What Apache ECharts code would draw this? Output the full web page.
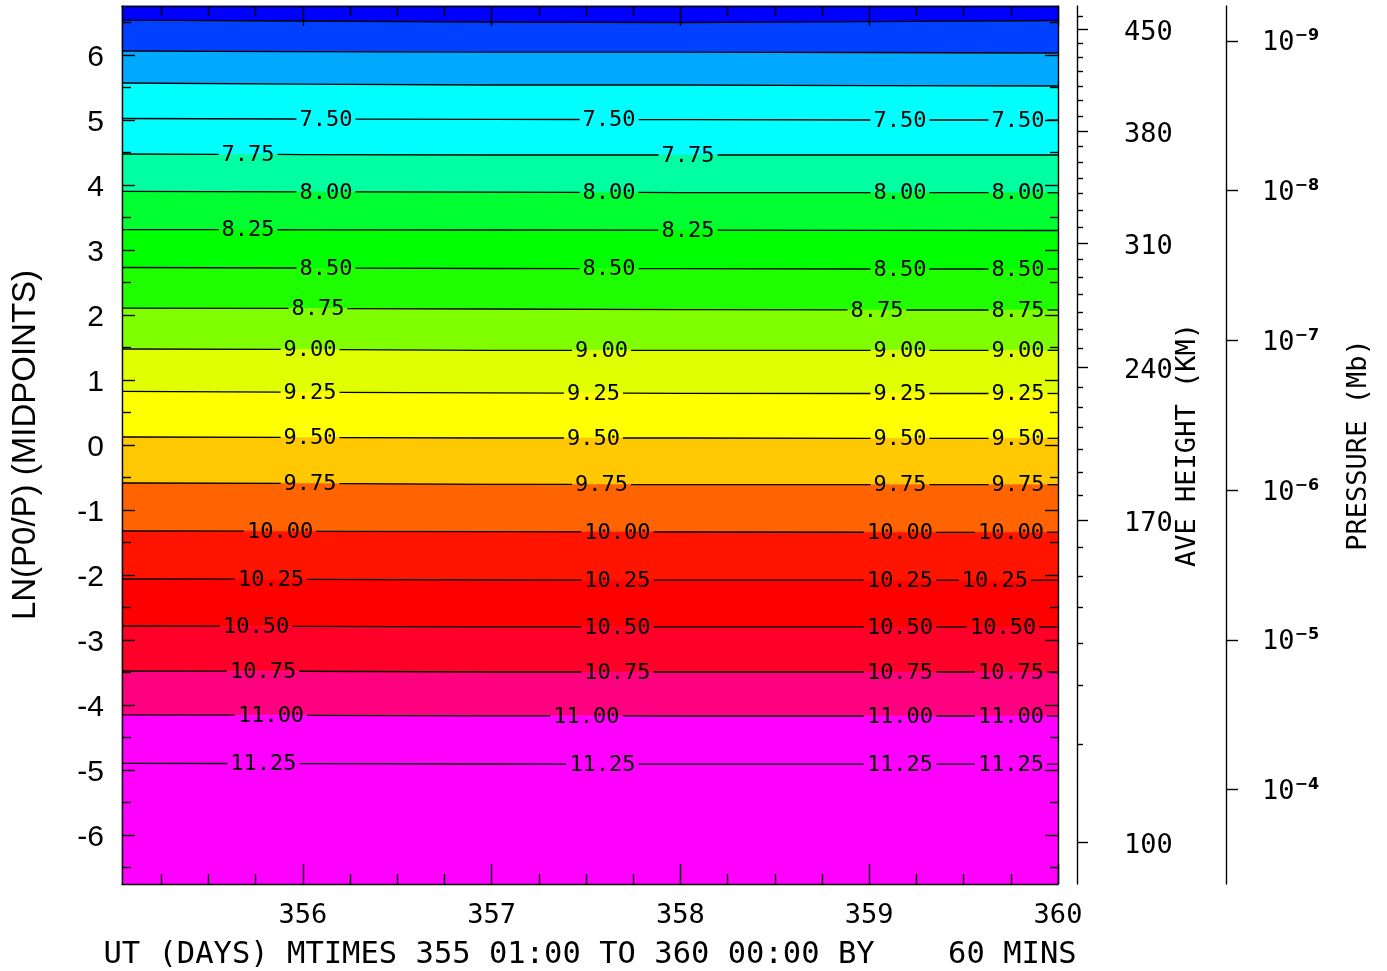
<!DOCTYPE html>
<html>
<head>
<meta charset="utf-8">
<script src="https://cdn.jsdelivr.net/npm/echarts@6/dist/echarts.min.js"></script>
<style>
html,body{margin:0;padding:0;background:#ffffff;}
#chart{width:1387px;height:971px;}
</style>
</head>
<body>
<div id="chart"></div>
<script>
// ---------------- data ----------------
const xStart = 355 + 1 / 24;      // 355 01:00
const xEnd = 360;                 // 360 00:00
const zMin = -6.75, zMax = 6.75;  // LN(P0/P) midpoints range

const xColumns = [xStart, 356, 357, 358, 359, 360];

const contourLevels = [6.75, 7.00, 7.25, 7.50, 7.75, 8.00, 8.25, 8.50, 8.75, 9.00,
                       9.25, 9.50, 9.75, 10.00, 10.25, 10.50, 10.75, 11.00, 11.25];

// z position of each contour level at the xColumns
const contourZ = [
  [6.534, 6.519, 6.504, 6.496, 6.511, 6.527],
  [6.058, 6.050, 6.042, 6.042, 6.035, 6.027],
  [5.566, 5.550, 5.535, 5.535, 5.527, 5.520],
  [5.020, 5.012, 5.008, 5.002, 4.997, 4.997],
  [4.474, 4.466, 4.459, 4.459, 4.459, 4.459],
  [3.901, 3.893, 3.887, 3.882, 3.879, 3.879],
  [3.313, 3.309, 3.306, 3.303, 3.300, 3.298],
  [2.729, 2.721, 2.714, 2.711, 2.706, 2.706],
  [2.106, 2.099, 2.091, 2.083, 2.076, 2.076],
  [1.476, 1.468, 1.456, 1.456, 1.456, 1.456],
  [0.823, 0.810, 0.800, 0.795, 0.792, 0.792],
  [0.123, 0.115, 0.108, 0.108, 0.103, 0.103],
  [-0.584, -0.592, -0.604, -0.610, -0.610, -0.610],
  [-1.322, -1.327, -1.333, -1.338, -1.342, -1.342],
  [-2.060, -2.065, -2.076, -2.079, -2.079, -2.079],
  [-2.783, -2.788, -2.795, -2.798, -2.798, -2.798],
  [-3.475, -3.479, -3.490, -3.490, -3.490, -3.490],
  [-4.151, -4.156, -4.164, -4.167, -4.167, -4.167],
  [-4.894, -4.900, -4.905, -4.908, -4.908, -4.908]
];

// x (days) where each contour is labelled
const contourLabelX = [
  [], [], [],
  [356.122, 357.622, 359.163, 359.788],
  [355.709, 358.040],
  [356.122, 357.622, 359.163, 359.788],
  [355.709, 358.040],
  [356.122, 357.622, 359.163, 359.788],
  [356.080, 359.041, 359.788],
  [356.038, 357.582, 359.163, 359.788],
  [356.038, 357.539, 359.163, 359.788],
  [356.038, 357.539, 359.163, 359.788],
  [356.038, 357.582, 359.163, 359.788],
  [355.879, 357.666, 359.163, 359.751],
  [355.831, 357.666, 359.163, 359.666],
  [355.752, 357.666, 359.163, 359.709],
  [355.789, 357.666, 359.163, 359.751],
  [355.831, 357.502, 359.163, 359.751],
  [355.791, 357.587, 359.163, 359.751]
];

// fill colour of each band, from the top of the plot down
const bandColors = ['#0000ff', '#0040ff', '#00a8ff', '#00ffff', '#00ffff', '#00ffa0', '#00ff30',
                    '#00ff00', '#20ff00', '#80ff00', '#e0ff00', '#ffff00', '#ffc800', '#ff6400',
                    '#ff1400', '#ff0000', '#ff0028', '#ff0080', '#ff00ff', '#ff00ff'];

const yMajorTicks = [-6, -5, -4, -3, -2, -1, 0, 1, 2, 3, 4, 5, 6];
const yMinorTicks = [-6.5, -5.5, -4.5, -3.5, -2.5, -1.5, -0.5, 0.5, 1.5, 2.5, 3.5, 4.5, 5.5, 6.5];
const xMajorTicks = [356, 357, 358, 359, 360];
const xMinorTicks = [355.25, 355.5, 355.75, 356.25, 356.5, 356.75, 357.25, 357.5, 357.75,
                     358.25, 358.5, 358.75, 359.25, 359.5, 359.75];

// average height axis (km) and the LN(P0/P) at which each tick sits
const heightLabels = [450, 380, 310, 240, 170, 100];
const heightTicks = [460, 450, 440, 430, 420, 410, 400, 390, 380, 370, 360, 350, 340, 330, 320,
                     310, 300, 290, 280, 270, 260, 250, 240, 230, 220, 210, 200, 190, 180, 170,
                     160, 150, 140, 130, 120, 110, 100];
const heightTickZ = [6.596, 6.396, 6.181, 5.966, 5.750, 5.520, 5.304, 5.058, 4.828, 4.597, 4.351,
                     4.105, 3.875, 3.613, 3.352, 3.106, 2.860, 2.583, 2.322, 2.045, 1.784, 1.491,
                     1.199, 0.892, 0.584, 0.277, -0.062, -0.415, -0.769, -1.153, -1.568, -2.014,
                     -2.491, -3.044, -3.690, -4.597, -6.104];

// pressure axis (mb); LN(P0/P) with P0 = 5e-7 mb
const P0 = 5e-7;
const pressureTicks = [1e-9, 1e-8, 1e-7, 1e-6, 1e-5, 1e-4];

const xTitle = 'UT (DAYS) MTIMES 355 01:00 TO 360 00:00 BY    60 MINS';
const yTitle = 'LN(P0/P) (MIDPOINTS)';
const heightTitle = 'AVE HEIGHT (KM)';
const pressureTitle = 'PRESSURE (Mb)';

// ---------------- derived ----------------
const heightMajorZ = heightLabels.map(h => heightTickZ[heightTicks.indexOf(h)]);
const heightMinorZ = heightTicks.map((h, k) => heightLabels.indexOf(h) < 0 ? heightTickZ[k] : null)
                                .filter(v => v !== null);
const pressureZ = pressureTicks.map(p => Math.log(P0 / p));

function nearestIndex(arr, v) {
  let best = 0;
  for (let k = 1; k < arr.length; k++) if (Math.abs(arr[k] - v) < Math.abs(arr[best] - v)) best = k;
  return best;
}

const MONO = "'DejaVu Sans Mono', monospace";
const SANS = "'Liberation Sans', Arial, sans-serif";
const LINE = { color: '#000', width: 1.4 };

function baseX(extra) {
  return Object.assign({
    type: 'value', gridIndex: 0, min: xStart, max: xEnd, z: 10,
    splitLine: { show: false },
    axisLine: { show: false, onZero: false, lineStyle: LINE },
    axisTick: { show: false },
    axisLabel: { show: false }
  }, extra);
}
function baseY(extra) {
  return Object.assign({
    type: 'value', gridIndex: 0, min: zMin, max: zMax, z: 10,
    splitLine: { show: false },
    axisLine: { show: false, onZero: false, lineStyle: LINE },
    axisTick: { show: false },
    axisLabel: { show: false }
  }, extra);
}

const chart = echarts.init(document.getElementById('chart'), null, { renderer: 'canvas' });

const option = {
  animation: false,
  backgroundColor: '#ffffff',
  grid: { left: 122, right: 329, top: 6, bottom: 87, containLabel: false, outerBoundsMode: 'none' },
  xAxis: [
    baseX({
      position: 'bottom',
      axisLine: { show: true, onZero: false, lineStyle: LINE },
      axisTick: { show: true, inside: true, length: 20, customValues: xMajorTicks, lineStyle: LINE },
      axisLabel: { show: true, customValues: xMajorTicks, color: '#000', fontFamily: MONO,
                   fontSize: 27, margin: 18, formatter: v => String(Math.round(v)) },
      name: xTitle, nameLocation: 'middle', nameGap: 56,
      nameTextStyle: { color: '#000', fontFamily: MONO, fontSize: 30.5 }
    }),
    baseX({
      position: 'bottom',
      axisTick: { show: true, inside: true, length: 10, customValues: xMinorTicks, lineStyle: LINE }
    }),
    baseX({
      position: 'top',
      axisLine: { show: true, onZero: false, lineStyle: LINE },
      axisTick: { show: true, inside: true, length: 20, customValues: xMajorTicks, lineStyle: LINE }
    }),
    baseX({
      position: 'top',
      axisTick: { show: true, inside: true, length: 10, customValues: xMinorTicks, lineStyle: LINE }
    })
  ],
  yAxis: [
    baseY({
      position: 'left',
      axisLine: { show: true, onZero: false, lineStyle: LINE },
      axisTick: { show: true, inside: true, length: 13, customValues: yMajorTicks, lineStyle: LINE },
      axisLabel: { show: true, customValues: yMajorTicks, margin: 18,
                   formatter: v => '{a|' + Math.round(v) + '}',
                   rich: { a: { color: '#000', fontFamily: SANS, fontSize: 30, padding: [6, 0, 0, 0] } } },
      name: yTitle, nameLocation: 'middle', nameRotate: 90, nameGap: 80,
      nameTextStyle: { color: '#000', fontFamily: SANS, fontSize: 33 }
    }),
    baseY({
      position: 'left',
      axisTick: { show: true, inside: true, length: 9, customValues: yMinorTicks, lineStyle: LINE }
    }),
    baseY({
      position: 'right',
      axisLine: { show: true, onZero: false, lineStyle: LINE },
      axisTick: { show: true, inside: true, length: 13, customValues: yMajorTicks, lineStyle: LINE }
    }),
    baseY({
      position: 'right',
      axisTick: { show: true, inside: true, length: 8, customValues: yMinorTicks, lineStyle: LINE }
    }),
    // average height axis
    baseY({
      position: 'right', offset: 19,
      axisLine: { show: true, onZero: false, lineStyle: LINE },
      axisTick: { show: true, inside: false, length: 11, customValues: heightMajorZ, lineStyle: LINE },
      axisLabel: { show: true, customValues: heightMajorZ, margin: 47,
                   formatter: v => '{a|' + heightLabels[nearestIndex(heightMajorZ, v)] + '}',
                   rich: { a: { color: '#000', fontFamily: MONO, fontSize: 27, padding: [7, 0, 0, 0] } } },
      name: heightTitle, nameLocation: 'middle', nameRotate: 90, nameGap: 97,
      nameMoveOverlap: false,
      nameTextStyle: { color: '#000', fontFamily: MONO, fontSize: 27 }
    }),
    baseY({
      position: 'right', offset: 19,
      axisTick: { show: true, inside: false, length: 6, customValues: heightMinorZ, lineStyle: LINE }
    }),
    // pressure axis
    baseY({
      position: 'right', offset: 168,
      axisLine: { show: true, onZero: false, lineStyle: LINE },
      axisTick: { show: true, inside: false, length: 12, customValues: pressureZ, lineStyle: LINE },
      axisLabel: {
        show: true, customValues: pressureZ, margin: 36, padding: [5, 0, 0, 0],
        formatter: v => {
          const p = pressureTicks[nearestIndex(pressureZ, v)];
          return '{n|10}{e|\u2212' + Math.round(-Math.log10(p)) + '}';
        },
        rich: {
          n: { color: '#000', fontFamily: MONO, fontSize: 27, lineHeight: 30 },
          e: { color: '#000', fontFamily: "'DejaVu Sans', sans-serif", fontSize: 16,
               fontWeight: 'bold', lineHeight: 14, verticalAlign: 'top' }
        }
      },
      name: pressureTitle, nameLocation: 'middle', nameRotate: 90, nameGap: 119,
      nameTextStyle: { color: '#000', fontFamily: MONO, fontSize: 27 }
    })
  ],
  series: [
    // filled bands between consecutive contour lines
    {
      type: 'custom', name: 'bands', xAxisIndex: 0, yAxisIndex: 0, z: 1, silent: true,
      data: bandColors.map((c, b) => [xStart, zMin, b]),
      renderItem: function (params, api) {
        const b = api.value(2);
        const upper = xColumns.map((x, j) => api.coord([x, b === 0 ? zMax : contourZ[b - 1][j]]));
        const lower = xColumns.map((x, j) => api.coord([x, b === contourLevels.length ? zMin : contourZ[b][j]]));
        const pts = upper.concat(lower.slice().reverse());
        return {
          type: 'polygon',
          shape: { points: pts },
          style: { fill: bandColors[b], stroke: bandColors[b], lineWidth: 0.6 }
        };
      }
    },
    // contour lines with their labels
    {
      type: 'custom', name: 'contours', xAxisIndex: 0, yAxisIndex: 0, z: 3, silent: true,
      data: contourLevels.map((v, i) => [xStart, zMin, i]),
      renderItem: function (params, api) {
        const i = api.value(2);
        const pts = xColumns.map((x, j) => api.coord([x, contourZ[i][j]]));
        const text = contourLevels[i].toFixed(2);
        const fs = 22;
        const hw = text.length * fs * 0.602 / 2 + 3;
        const yAt = function (px) {
          for (let j = 0; j < pts.length - 1; j++) {
            const a = pts[j], b = pts[j + 1];
            if (px >= a[0] - 1e-6 && px <= b[0] + 1e-6) {
              const t = (px - a[0]) / (b[0] - a[0]);
              return a[1] + t * (b[1] - a[1]);
            }
          }
          return px < pts[0][0] ? pts[0][1] : pts[pts.length - 1][1];
        };
        const centers = contourLabelX[i].map(lx => api.coord([lx, 0])[0]);
        const gaps = centers.map(c => [c - hw, c + hw]);
        const x0 = pts[0][0], x1 = pts[pts.length - 1][0];
        let xs = pts.map(p => p[0]);
        gaps.forEach(g => { xs.push(g[0], g[1]); });
        xs = xs.filter(v => v >= x0 && v <= x1).sort((a, b) => a - b);
        const lines = [];
        let cur = [];
        for (let k = 0; k < xs.length - 1; k++) {
          const a = xs[k], b = xs[k + 1];
          if (b - a < 1e-6) continue;
          const m = (a + b) / 2;
          const inGap = gaps.some(g => m > g[0] && m < g[1]);
          if (inGap) {
            if (cur.length > 1) lines.push(cur);
            cur = [];
          } else {
            if (!cur.length) cur.push([a, yAt(a)]);
            cur.push([b, yAt(b)]);
          }
        }
        if (cur.length > 1) lines.push(cur);
        const children = lines.map(l => ({
          type: 'polyline', shape: { points: l },
          style: { stroke: '#000', lineWidth: 1.3, fill: null }
        }));
        centers.forEach(c => {
          children.push({
            type: 'text', x: c, y: yAt(c) + 1,
            style: { text: text, fill: '#000', font: fs + 'px ' + MONO,
                     align: 'center', verticalAlign: 'middle' }
          });
        });
        return { type: 'group', children: children };
      }
    }
  ]
};

chart.setOption(option);
</script>
</body>
</html>
